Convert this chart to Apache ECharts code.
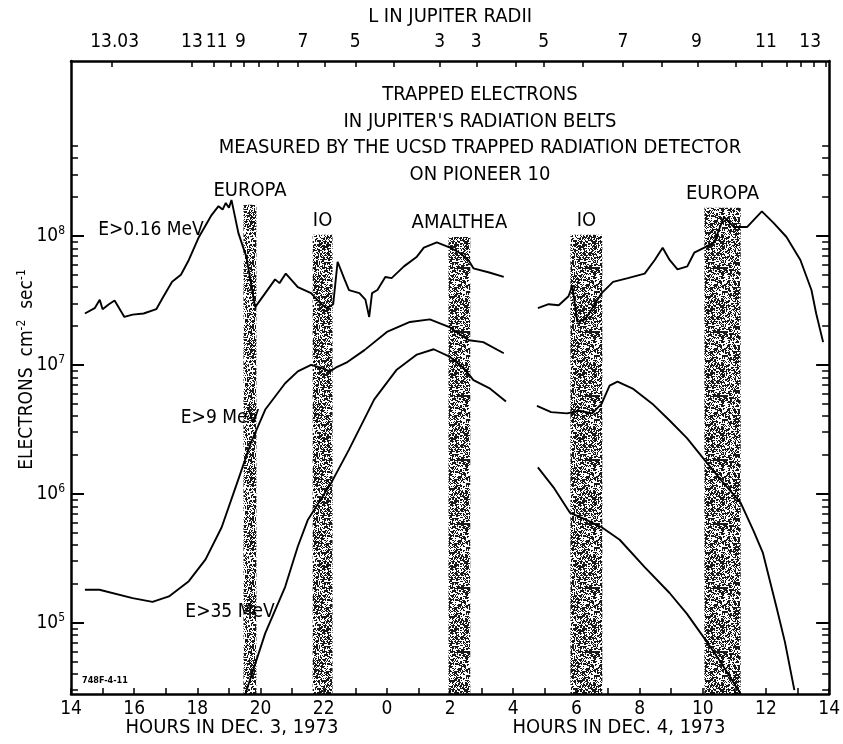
<!DOCTYPE html>
<html>
<head>
<meta charset="utf-8">
<script src="https://cdn.jsdelivr.net/npm/echarts@6.0.0/dist/echarts.min.js"></script>
<style>
html, body { margin: 0; padding: 0; background: #fff; }
#main { width: 843px; height: 744px; }
</style>
</head>
<body>
<div id="main"></div>
<script>
// hours are counted from 14h on Dec 3; 24..38 is Dec 4 (0h..14h)
var hourLabels = [14, 16, 18, 20, 22, 24, 26, 28, 30, 32, 34, 36, 38];

// L (Jupiter radii) scale along the top
var lLabelHours = [15.38, 17.83, 18.61, 19.36, 21.34, 23.0, 25.67, 26.83, 28.96, 31.47, 33.8, 36.0, 37.4];
var lLabels = ['13.03', '13', '11', '9', '7', '5', '3', '3', '5', '7', '9', '11', '13'];
var lTickHours = [15.29, 17.83, 18.52, 19.05, 19.46, 19.93, 20.56, 21.18, 22.03, 23.0, 24.23, 25.67,
  26.83, 28.09, 28.96, 30.19, 31.47, 32.7, 33.83, 35.05, 35.87, 36.65, 37.09, 37.5, 37.9];

var yMin = 2.8e4, yMax = 2.27e9;
var decades = [1e5, 1e6, 1e7, 1e8];

// moon crossings (shaded bands)
var bandNames = ['EUROPA', 'IO', 'AMALTHEA', 'IO', 'EUROPA'];
var bandStart = [19.46, 21.65, 25.95, 29.81, 34.05];
var bandEnd = [19.87, 22.28, 26.64, 30.82, 35.2];
var bandTop = [1.74e8, 1.02e8, 0.98e8, 1.02e8, 1.65e8];

// E > 0.16 MeV
var e016a = [[14.44, 2.5e7], [14.75, 2.75e7], [14.91, 3.2e7], [15.0, 2.7e7], [15.2, 2.95e7], [15.38, 3.15e7],
  [15.69, 2.35e7], [15.95, 2.45e7], [16.3, 2.5e7], [16.7, 2.7e7], [16.9, 3.3e7], [17.2, 4.4e7],
  [17.48, 5.0e7], [17.73, 6.5e7], [18.05, 9.8e7], [18.45, 1.45e8], [18.67, 1.7e8], [18.8, 1.6e8],
  [18.9, 1.8e8], [19.0, 1.65e8], [19.08, 1.9e8], [19.3, 1.05e8], [19.55, 6.9e7], [19.83, 2.8e7],
  [20.15, 3.6e7], [20.46, 4.6e7], [20.6, 4.3e7], [20.8, 5.1e7], [21.18, 4.0e7], [21.6, 3.6e7],
  [21.9, 3.0e7], [22.1, 2.75e7], [22.3, 2.95e7], [22.44, 6.3e7], [22.66, 4.6e7], [22.8, 3.8e7],
  [23.13, 3.6e7], [23.32, 3.2e7], [23.44, 2.35e7], [23.53, 3.6e7], [23.7, 3.8e7], [23.95, 4.8e7],
  [24.15, 4.7e7], [24.54, 5.8e7], [24.95, 6.9e7], [25.17, 8.1e7], [25.58, 8.9e7], [26.0, 8.1e7],
  [26.3, 7.4e7], [26.58, 6.5e7], [26.74, 5.6e7], [27.24, 5.2e7], [27.7, 4.8e7]];
var e016b = [[28.78, 2.75e7], [29.12, 2.95e7], [29.44, 2.9e7], [29.75, 3.4e7], [29.87, 4.1e7], [30.03, 2.15e7],
  [30.28, 2.25e7], [30.8, 3.6e7], [31.16, 4.4e7], [31.63, 4.7e7], [32.16, 5.1e7], [32.48, 6.5e7],
  [32.73, 8.1e7], [32.95, 6.5e7], [33.2, 5.5e7], [33.51, 5.8e7], [33.73, 7.4e7], [34.05, 8.1e7],
  [34.36, 8.9e7], [34.67, 1.4e8], [34.99, 1.17e8], [35.4, 1.17e8], [35.87, 1.55e8], [36.24, 1.26e8],
  [36.65, 9.8e7], [37.09, 6.5e7], [37.44, 3.8e7], [37.59, 2.5e7], [37.81, 1.5e7]];

// E > 9 MeV
var e9a = [[14.44, 1.8e5], [14.9, 1.8e5], [15.95, 1.55e5], [16.58, 1.45e5], [17.1, 1.6e5], [17.73, 2.1e5],
  [18.26, 3.1e5], [18.77, 5.5e5], [19.3, 1.3e6], [19.7, 2.5e6], [20.15, 4.5e6], [20.78, 7.2e6],
  [21.18, 8.9e6], [21.6, 1.0e7], [21.9, 9.5e6], [22.2, 8.9e6], [22.38, 9.5e6], [22.75, 1.05e7],
  [23.29, 1.3e7], [24.0, 1.8e7], [24.73, 2.15e7], [25.36, 2.25e7], [26.0, 1.95e7], [26.42, 1.65e7],
  [26.6, 1.55e7], [27.05, 1.5e7], [27.7, 1.23e7]];
var e9b = [[28.75, 4.8e6], [29.2, 4.3e6], [29.7, 4.2e6], [30.1, 4.4e6], [30.5, 4.2e6], [30.8, 5.0e6],
  [31.05, 6.9e6], [31.3, 7.4e6], [31.8, 6.5e6], [32.4, 5.0e6], [32.95, 3.7e6], [33.5, 2.7e6],
  [34.08, 1.8e6], [34.6, 1.26e6], [35.2, 8.5e5], [35.6, 5.2e5], [35.9, 3.5e5], [36.34, 1.3e5],
  [36.6, 7.1e4], [36.9, 3.0e4]];

// E > 35 MeV
var e35a = [[19.52, 2.8e4], [20.15, 8.3e4], [20.78, 1.9e5], [21.18, 3.9e5], [21.5, 6.3e5], [22.25, 1.23e6],
  [22.8, 2.2e6], [23.6, 5.4e6], [24.3, 9.1e6], [24.95, 1.2e7], [25.48, 1.32e7], [26.0, 1.15e7],
  [26.42, 9.5e6], [26.74, 7.6e6], [27.24, 6.6e6], [27.77, 5.2e6]];
var e35b = [[28.78, 1.6e6], [29.3, 1.1e6], [29.8, 7.1e5], [30.3, 6.3e5], [30.8, 5.5e5], [31.37, 4.4e5],
  [32.16, 2.7e5], [32.95, 1.7e5], [33.5, 1.17e5], [34.08, 7.4e4], [34.6, 4.8e4], [35.2, 2.8e4]];

var FONT = '"DejaVu Sans Condensed", "Liberation Sans Narrow", "DejaVu Sans", sans-serif';

// log minor ticks 2..9 of every decade inside the axis range
var minorTicks = [];
for (var d = 1e4; d < 1e9; d *= 10) {
  for (var m = 2; m <= 9; m++) {
    var t = m * d;
    if (t > yMin && t < 6e8) minorTicks.push(t);
  }
}

// stippled fill for the moon bands (fixed integer-hash dither, not data)
function hash(n) {
  n = Math.imul(n ^ (n >>> 16), 0x7feb352d);
  n = Math.imul(n ^ (n >>> 15), 0x846ca68b);
  return (n ^ (n >>> 16)) >>> 0;
}
function stipple() {
  var c = document.createElement('canvas');
  c.width = 64; c.height = 64;
  var g = c.getContext('2d');
  g.fillStyle = '#000';
  for (var y = 0; y < 64; y++) {
    for (var x = 0; x < 64; x++) {
      var k = hash(y * 64 + x + 12345) & 1023;
      if (k < 430) g.fillRect(x, y, 1, 1);
      else if (k < 470) g.fillRect(x, y, 2, 2);
    }
  }
  return c;
}

var bandData = bandNames.map(function (n, i) {
  return [{ name: n, xAxis: bandStart[i], yAxis: yMin }, { xAxis: bandEnd[i], yAxis: bandTop[i] }];
});

function line(data, extra) {
  var s = {
    type: 'line', data: data, symbol: 'none', smooth: false, z: 3,
    lineStyle: { color: '#000', width: 1.9 }, animation: false
  };
  return Object.assign(s, extra || {});
}

var chart = echarts.init(document.getElementById('main'));
chart.setOption({
  animation: false,
  backgroundColor: '#fff',
  grid: { left: 71, right: 7, top: 61, bottom: 50 },
  textStyle: { fontFamily: FONT, color: '#000' },
  xAxis: [{
    type: 'value', min: 14, max: 38, interval: 1, position: 'bottom',
    axisLine: { lineStyle: { color: '#000', width: 2.5 } },
    axisTick: { inside: true, length: 6, lineStyle: { color: '#000', width: 1.5 } },
    axisLabel: {
      customValues: hourLabels, margin: 6, color: '#000', fontSize: 19, fontFamily: FONT,
      formatter: function (v) { return String(v % 24); }
    },
    splitLine: { show: false }
  }, {
    type: 'value', min: 14, max: 38, position: 'top',
    name: 'L IN JUPITER RADII', nameLocation: 'middle', nameGap: 34,
    nameTextStyle: { fontSize: 20, fontFamily: FONT, color: '#000' },
    axisLine: { lineStyle: { color: '#000', width: 2.5 } },
    axisTick: { customValues: lTickHours, inside: true, length: 6, lineStyle: { color: '#000', width: 1.5 } },
    axisLabel: {
      customValues: lLabelHours, margin: 9, color: '#000', fontSize: 19, fontFamily: FONT,
      formatter: function (v) { return lLabels[lLabelHours.indexOf(v)]; }
    },
    splitLine: { show: false }
  }],
  yAxis: [{
    type: 'log', logBase: 10, min: yMin, max: yMax, position: 'left',
    name: 'ELECTRONS  cm{sup|-2}  sec{sup|-1}', nameLocation: 'middle', nameRotate: 90, nameGap: 33,
    nameMoveOverlap: false,
    nameTextStyle: {
      fontSize: 19, fontFamily: FONT, color: '#000', padding: [0, 0, 0, 16],
      rich: { sup: { fontSize: 12, fontFamily: FONT, color: '#000', padding: [0, 0, 10, 0] } }
    },
    axisLine: { lineStyle: { color: '#000', width: 2.5 } },
    axisTick: { customValues: decades, inside: true, length: 13, lineStyle: { color: '#000', width: 2 } },
    axisLabel: {
      customValues: decades, margin: 6, color: '#000', fontSize: 19, fontFamily: FONT,
      formatter: function (v) { return '10{sup|' + Math.round(Math.log10(v)) + '}'; },
      rich: { sup: { fontSize: 12, fontFamily: FONT, color: '#000', padding: [0, 0, 10, 0] } }
    },
    splitLine: { show: false }
  }, {
    type: 'log', logBase: 10, min: yMin, max: yMax, position: 'left',
    axisLine: { show: false },
    axisTick: { customValues: minorTicks, inside: true, length: 7, lineStyle: { color: '#000', width: 1.5 } },
    axisLabel: { show: false },
    splitLine: { show: false }
  }, {
    type: 'log', logBase: 10, min: yMin, max: yMax, position: 'right',
    axisLine: { lineStyle: { color: '#000', width: 2.5 } },
    axisTick: { customValues: decades, inside: true, length: 13, lineStyle: { color: '#000', width: 2 } },
    axisLabel: { show: false },
    splitLine: { show: false }
  }, {
    type: 'log', logBase: 10, min: yMin, max: yMax, position: 'right',
    axisLine: { show: false },
    axisTick: { customValues: minorTicks, inside: true, length: 7, lineStyle: { color: '#000', width: 1.5 } },
    axisLabel: { show: false },
    splitLine: { show: false }
  }],
  series: [
    line(e016a, {
      markArea: {
        silent: true,
        itemStyle: { color: { image: stipple(), repeat: 'repeat' }, opacity: 0.9 },
        label: { show: true, position: 'top', distance: 4, color: '#000', fontSize: 20, fontFamily: FONT },
        data: bandData
      }
    }),
    line(e016b),
    line(e9a),
    line(e9b),
    line(e35a),
    line(e35b)
  ],
  graphic: [{
    type: 'text', x: 480, y: 82,
    style: {
      text: 'TRAPPED ELECTRONS\nIN JUPITER\'S RADIATION BELTS\nMEASURED BY THE UCSD TRAPPED RADIATION DETECTOR\nON PIONEER 10',
      align: 'center', verticalAlign: 'top', lineHeight: 26.5, fill: '#000',
      font: '20px ' + FONT
    }
  }, {
    type: 'text', x: 151, y: 230,
    style: { text: 'E>0.16 MeV', align: 'center', verticalAlign: 'middle', fill: '#000', font: '19px ' + FONT }
  }, {
    type: 'text', x: 220, y: 418,
    style: { text: 'E>9 MeV', align: 'center', verticalAlign: 'middle', fill: '#000', font: '19px ' + FONT }
  }, {
    type: 'text', x: 230, y: 612,
    style: { text: 'E>35 MeV', align: 'center', verticalAlign: 'middle', fill: '#000', font: '19px ' + FONT }
  }, {
    type: 'text', x: 82, y: 681,
    style: { text: '748F-4-11', align: 'left', verticalAlign: 'middle', fill: '#000', font: 'bold 9px ' + FONT }
  }, {
    type: 'text', x: 232, y: 728,
    style: { text: 'HOURS IN DEC. 3, 1973', align: 'center', verticalAlign: 'middle', fill: '#000', font: '20px ' + FONT }
  }, {
    type: 'text', x: 619, y: 728,
    style: { text: 'HOURS IN DEC. 4, 1973', align: 'center', verticalAlign: 'middle', fill: '#000', font: '20px ' + FONT }
  }]
});
</script>
</body>
</html>
